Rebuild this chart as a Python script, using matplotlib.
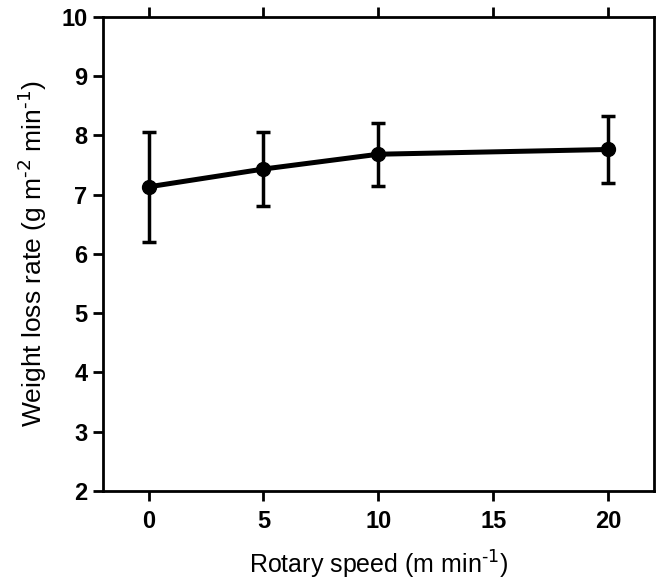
import matplotlib
matplotlib.use('Agg')
from matplotlib import pyplot as plt

# rotary speed (m/min) and weight loss rate with error bars
speed = [0, 5, 10, 20]
rate = [7.13, 7.43, 7.68, 7.76]
rate_err = [0.93, 0.62, 0.53, 0.57]

x_ticks = [0, 5, 10, 15, 20]
y_ticks = [2, 3, 4, 5, 6, 7, 8, 9, 10]

plt.rcParams['font.family'] = ['Liberation Sans', 'DejaVu Sans']
plt.rcParams['mathtext.default'] = 'regular'

fig = plt.figure(figsize=(6.59, 5.85), dpi=100)
ax = fig.add_axes([0.1558, 0.1607, 0.9924 - 0.1558, 0.9715 - 0.1607])

ax.errorbar(speed, rate, yerr=rate_err, color='black', linewidth=3.6,
            elinewidth=2.5, capsize=5, capthick=2.5,
            marker='o', markersize=10)

ax.set_xlim(-2, 22)
ax.set_ylim(2, 10)
ax.set_xticks(x_ticks)
ax.set_yticks(y_ticks)

for s in ax.spines.values():
    s.set_linewidth(2)

ax.tick_params(axis='x', direction='out', length=7, width=2, top=True,
               labelsize=17, pad=7)
ax.tick_params(axis='y', direction='out', length=7, width=2, right=False,
               labelsize=17, pad=4)
for lbl in ax.get_xticklabels() + ax.get_yticklabels():
    lbl.set_fontweight('bold')

ax.set_xlabel(r'Rotary speed (m min$^{\text{-1}}$)', fontsize=18, labelpad=11)
ax.set_ylabel(r'Weight loss rate (g m$^{\text{-2}}$ min$^{\text{-1}}$)',
              fontsize=19, labelpad=9)

fig.savefig('out.png', dpi=100)
